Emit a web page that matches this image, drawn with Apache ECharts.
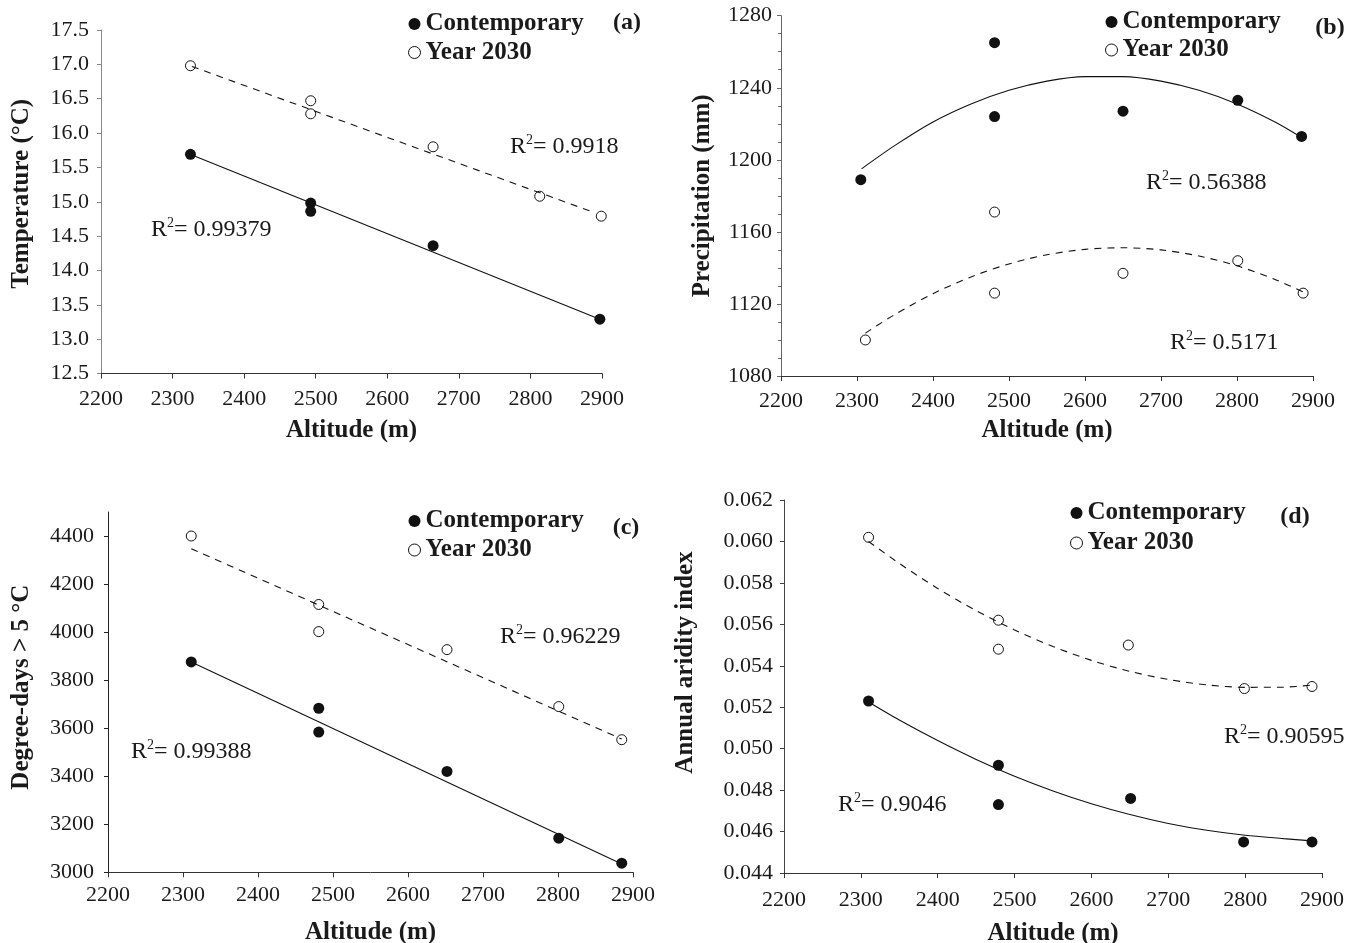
<!DOCTYPE html>
<html>
<head>
<meta charset="utf-8">
<script src="https://cdn.jsdelivr.net/npm/echarts@6/dist/echarts.min.js"></script>
<style>
html,body{margin:0;padding:0;background:#fff;}
#chart{width:1368px;height:943px;}
</style>
</head>
<body>
<div id="chart"></div>
<script>
// ---------- data ----------
// (a) Temperature
const altA_c  = [2325, 2493, 2493, 2664, 2897];
const tempA_c = [15.69, 14.98, 14.86, 14.36, 13.29];
const altA_f  = [2325, 2493, 2493, 2664, 2813, 2899];
const tempA_f = [16.98, 16.47, 16.28, 15.80, 15.08, 14.79];
const fitA_c_x = [2327, 2897];
const fitA_c_y = [15.68, 13.29];
const fitA_f_x = [2327, 2890];
const fitA_f_y = [16.97, 14.84];

// (b) Precipitation
const altB_c  = [2305, 2481, 2481, 2650, 2801, 2885];
const precB_c = [1189, 1265, 1224, 1227, 1233, 1213];
const altB_f  = [2311, 2481, 2481, 2650, 2801, 2887];
const precB_f = [1100, 1171, 1126, 1137, 1144, 1126];
const fitB_c_x = [2306, 2350, 2400, 2450, 2500, 2550, 2600, 2650, 2700, 2750, 2800, 2850, 2885];
const fitB_c_y = [1195, 1208, 1221, 1231, 1238.6, 1243.7, 1246.2, 1246.2, 1243.7, 1238.6, 1231, 1221, 1212.4];
const fitB_f_x = [2311, 2350, 2400, 2450, 2500, 2550, 2600, 2650, 2700, 2750, 2800, 2850, 2890];
const fitB_f_y = [1103.8, 1114.2, 1125.7, 1135, 1142.2, 1147.3, 1150.3, 1151.2, 1150, 1146.6, 1141.2, 1133.6, 1126.1];

// (c) Degree-days > 5 °C
const altC_c = [2311, 2481, 2481, 2652, 2801, 2885];
const ddC_c  = [3876, 3683, 3584, 3420, 3142, 3038];
const altC_f = [2311, 2481, 2481, 2652, 2801, 2885];
const ddC_f  = [4400, 4115, 4002, 3927, 3690, 3552];
const fitC_c_x = [2311, 2885];
const fitC_c_y = [3876, 3035];
const fitC_f_x = [2311, 2885];
const fitC_f_y = [4347, 3555];
const ticksC = [3000, 3200, 3400, 3600, 3800, 4000, 4200, 4400];

// (d) Annual aridity index
const altD_c = [2310, 2479, 2479, 2651, 2798, 2887];
const aiD_c  = [0.0523, 0.0492, 0.0473, 0.0476, 0.0455, 0.0455];
const altD_f = [2310, 2479, 2479, 2648, 2799, 2887];
const aiD_f  = [0.0602, 0.0562, 0.0548, 0.0550, 0.0529, 0.0530];
const fitD_c_x = [2310, 2350, 2400, 2450, 2500, 2550, 2600, 2650, 2700, 2750, 2800, 2850, 2887];
const fitD_c_y = [0.05225, 0.05138, 0.05039, 0.04948, 0.04867, 0.04796, 0.04734, 0.04682, 0.04639, 0.04606, 0.04582, 0.04566, 0.04555];
const fitD_f_x = [2310, 2350, 2400, 2450, 2500, 2550, 2600, 2650, 2700, 2750, 2800, 2850, 2887];
const fitD_f_y = [0.06000, 0.05894, 0.05773, 0.05666, 0.05573, 0.05493, 0.05426, 0.05373, 0.05334, 0.05308, 0.05296, 0.05297, 0.05307];

const r2Labels = ['0.9918', '0.99379', '0.56388', '0.5171', '0.96229', '0.99388', '0.90595', '0.9046'];
const panelLabels = ['(a)', '(b)', '(c)', '(d)'];
const yNames = ['Temperature (°C)', 'Precipitation (mm)', 'Degree-days > 5 °C', 'Annual aridity index'];
const xName = 'Altitude (m)';
const seriesNames = ['Contemporary', 'Year 2030'];

// ---------- helpers ----------
const FONT = '"Liberation Serif", "DejaVu Serif", serif';
const INK = '#1a1a1a';
const zip = (xs, ys) => xs.map((x, i) => [x, ys[i]]);
const plain = v => String(v);

const grids = [
  {left: 101, top: 30,  width: 501, height: 343.5},
  {left: 781, top: 15.7, width: 532, height: 360.3},
  {left: 108, top: 512, width: 525, height: 360.3},
  {left: 784, top: 500, width: 538, height: 373}
].map(g => Object.assign({outerBoundsMode: 'none', containLabel: false}, g));

function xAx(gi, margin, nameGap) {
  return {
    gridIndex: gi, type: 'value', min: 2200, max: 2900, interval: 100,
    name: xName, nameLocation: 'middle', nameGap: nameGap,
    nameTextStyle: {fontFamily: FONT, fontWeight: 'bold', fontSize: 25, color: INK},
    axisLine: {show: true, onZero: false, lineStyle: {color: '#333', width: 1}},
    axisTick: {show: true, length: 5, lineStyle: {color: '#333', width: 1}},
    axisLabel: {show: true, margin: margin, fontFamily: FONT, fontSize: 22, color: INK, formatter: plain},
    splitLine: {show: false}
  };
}
function yAx(gi, o) {
  const ax = {
    gridIndex: gi, type: 'value', min: o.min, max: o.max, interval: o.interval,
    name: yNames[gi], nameLocation: 'middle', nameGap: o.nameGap,
    nameTextStyle: {fontFamily: FONT, fontWeight: 'bold', fontSize: 25, color: INK, padding: [0, 0, 0, o.shift || 0]},
    axisLine: {show: true, onZero: false, lineStyle: {color: o.lineColor, width: 1}},
    axisTick: {show: true, length: 4, lineStyle: {color: o.lineColor, width: 1}},
    axisLabel: {show: true, margin: o.margin, fontFamily: FONT, fontSize: 22, color: INK, formatter: o.formatter || plain},
    splitLine: {show: false}
  };
  if (o.minor) ax.minorTick = {show: true, splitNumber: 4, length: 3, lineStyle: {color: o.lineColor, width: 1}};
  if (o.custom) {
    ax.axisTick.customValues = o.custom;
    ax.axisLabel.customValues = o.custom;
    delete ax.interval;
  }
  return ax;
}

const filledStyle = {color: '#111', opacity: 1};
const openStyle = {color: 'rgba(255,255,255,0)', borderColor: '#111', borderWidth: 1, opacity: 1};

function panelSeries(gi, c, f, fc, ff, smooth) {
  return [
    {type: 'line', name: 'fit' + gi + 'c', xAxisIndex: gi, yAxisIndex: gi, data: fc, smooth: smooth,
     symbol: 'none', showSymbol: false, silent: true, z: 1,
     lineStyle: {color: '#111', width: 1.1, type: 'solid'}},
    {type: 'line', name: 'fit' + gi + 'f', xAxisIndex: gi, yAxisIndex: gi, data: ff, smooth: smooth,
     symbol: 'none', showSymbol: false, silent: true, z: 1,
     lineStyle: {color: '#111', width: 1.1, type: [7, 6]}},
    {type: 'scatter', name: seriesNames[0], xAxisIndex: gi, yAxisIndex: gi, data: c,
     symbol: 'circle', symbolSize: 11, itemStyle: filledStyle, z: 3},
    {type: 'scatter', name: seriesNames[1], xAxisIndex: gi, yAxisIndex: gi, data: f,
     symbol: 'circle', symbolSize: 10, itemStyle: openStyle, z: 3}
  ];
}

function legendAt(left, top, gap) {
  return {
    left: left, top: top, orient: 'vertical', itemGap: gap, itemWidth: 12, itemHeight: 12,
    padding: 0, selectedMode: false,
    textStyle: {fontFamily: FONT, fontWeight: 'bold', fontSize: 25, color: INK, lineHeight: 26},
    data: [
      {name: seriesNames[0], icon: 'circle', itemStyle: {color: '#111', borderWidth: 0}},
      {name: seriesNames[1], icon: 'circle', itemStyle: {color: 'rgba(255,255,255,0)', borderColor: '#111', borderWidth: 1}}
    ]
  };
}

function r2Text(x, y, val) {
  return {
    type: 'text', x: x, y: y, silent: true,
    style: {
      text: '{r|R}{s|2}{r|= ' + val + '}',
      align: 'left', verticalAlign: 'middle',
      rich: {
        r: {fontFamily: FONT, fontSize: 24, lineHeight: 28, fill: INK, color: INK},
        s: {fontFamily: FONT, fontSize: 14, lineHeight: 14, verticalAlign: 'top', fill: INK, color: INK}
      }
    }
  };
}
function panelText(x, y, t) {
  return {type: 'text', x: x, y: y, silent: true,
    style: {text: t, align: 'center', verticalAlign: 'middle', fontFamily: FONT, fontWeight: 'bold', fontSize: 24, fill: INK}};
}

const option = {
  animation: false,
  backgroundColor: '#fff',
  grid: grids,
  xAxis: [xAx(0, 15, 45), xAx(1, 14, 42), xAx(2, 12, 48), xAx(3, 16, 48)],
  yAxis: [
    yAx(0, {min: 12.5, max: 17.5, interval: 0.5, nameGap: 67, shift: 16, lineColor: '#888', margin: 12,
            formatter: v => v.toFixed(1)}),
    yAx(1, {min: 1080, max: 1280, interval: 40, nameGap: 66, shift: 0, lineColor: '#666', margin: 9, minor: true}),
    yAx(2, {min: 3000, max: 4500, interval: 200, nameGap: 74, shift: 10, lineColor: '#222', margin: 14,
            custom: ticksC}),
    yAx(3, {min: 0.044, max: 0.062, interval: 0.002, nameGap: 86, shift: 48, lineColor: '#444', margin: 11,
            formatter: v => v.toFixed(3)})
  ],
  legend: [legendAt(408, 11, 2.5), legendAt(1105, 9, 2), legendAt(408, 508, 3), legendAt(1070, 500, 4)],
  graphic: [
    panelText(627, 23, panelLabels[0]),
    panelText(1330, 28, panelLabels[1]),
    panelText(626, 528, panelLabels[2]),
    panelText(1295, 517, panelLabels[3]),
    r2Text(510, 147, r2Labels[0]),
    r2Text(151, 230, r2Labels[1]),
    r2Text(1146, 183, r2Labels[2]),
    r2Text(1170, 343, r2Labels[3]),
    r2Text(500, 637, r2Labels[4]),
    r2Text(131, 752, r2Labels[5]),
    r2Text(1224, 737, r2Labels[6]),
    r2Text(838, 805, r2Labels[7])
  ],
  series: [].concat(
    panelSeries(0, zip(altA_c, tempA_c), zip(altA_f, tempA_f), zip(fitA_c_x, fitA_c_y), zip(fitA_f_x, fitA_f_y), false),
    panelSeries(1, zip(altB_c, precB_c), zip(altB_f, precB_f), zip(fitB_c_x, fitB_c_y), zip(fitB_f_x, fitB_f_y), 0.3),
    panelSeries(2, zip(altC_c, ddC_c), zip(altC_f, ddC_f), zip(fitC_c_x, fitC_c_y), zip(fitC_f_x, fitC_f_y), false),
    panelSeries(3, zip(altD_c, aiD_c), zip(altD_f, aiD_f), zip(fitD_c_x, fitD_c_y), zip(fitD_f_x, fitD_f_y), 0.3)
  )
};

const chart = echarts.init(document.getElementById('chart'), null, {renderer: 'canvas'});
chart.setOption(option);
</script>
</body>
</html>
